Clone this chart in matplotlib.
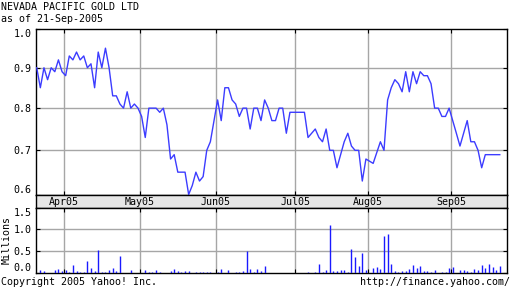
import numpy as np
import pandas as pd
import matplotlib
matplotlib.use("Agg")
import matplotlib.pyplot as plt

title = "NEVADA PACIFIC GOLD LTD"
subtitle = "as of 21-Sep-2005"
holidays = ["2005-03-25", "2005-05-30", "2005-07-04", "2005-09-05"]

# closing price, one per trading day 21-Mar-2005 .. 21-Sep-2005
prices = [
    0.90, 0.85, 0.90, 0.87, 0.90, 0.89, 0.92, 0.89, 0.88, 0.93,
    0.92, 0.94, 0.92, 0.93, 0.90, 0.91, 0.85, 0.94, 0.90, 0.95,
    0.90, 0.83, 0.83, 0.81, 0.80, 0.84, 0.80, 0.81, 0.80, 0.78,
    0.73, 0.80, 0.80, 0.80, 0.79, 0.80, 0.76, 0.68, 0.69, 0.65,
    0.65, 0.65, 0.60, 0.62, 0.65, 0.63, 0.64, 0.70, 0.72, 0.77,
    0.82, 0.77, 0.85, 0.85, 0.82, 0.81, 0.78, 0.80, 0.80, 0.75,
    0.80, 0.80, 0.77, 0.82, 0.80, 0.77, 0.77, 0.80, 0.80, 0.74,
    0.79, 0.79, 0.79, 0.79, 0.79, 0.73, 0.74, 0.75, 0.73, 0.72,
    0.75, 0.70, 0.70, 0.66, 0.69, 0.72, 0.74, 0.71, 0.70, 0.70,
    0.63, 0.68, 0.675, 0.67, 0.695, 0.72, 0.70, 0.82, 0.85, 0.87,
    0.86, 0.84, 0.89, 0.84, 0.89, 0.86, 0.89, 0.88, 0.88, 0.86,
    0.80, 0.80, 0.78, 0.78, 0.80, 0.77, 0.74, 0.71, 0.74, 0.77,
    0.72, 0.72, 0.70, 0.66, 0.69, 0.69, 0.69, 0.69, 0.69,
]

# volume in millions
volume = [
    0, 0.07, 0.045, 0, 0, 0.07, 0.09, 0.045, 0.07, 0.02,
    0.18, 0.045, 0.02, 0.02, 0.27, 0.11, 0.045, 0.52, 0.02, 0.02,
    0.07, 0.11, 0.045, 0.39, 0, 0, 0.07, 0, 0, 0,
    0.07, 0.02, 0.02, 0.07, 0.02, 0, 0, 0.045, 0.09, 0.045,
    0.02, 0.045, 0.045, 0, 0.02, 0.02, 0.02, 0.02, 0.02, 0,
    0.02, 0.09, 0, 0.07, 0, 0.02, 0.02, 0.045, 0.50, 0.09,
    0.02, 0.09, 0.045, 0.16, 0, 0, 0, 0, 0, 0,
    0, 0, 0, 0, 0, 0.02, 0, 0.02, 0.20, 0.02,
    0.07, 1.11, 0.045, 0.045, 0.07, 0.07, 0.02, 0.55, 0.36, 0.16,
    0.45, 0.07, 0, 0.11, 0.14, 0.09, 0.84, 0.89, 0.20, 0.045,
    0.02, 0.045, 0.045, 0.09, 0.18, 0.11, 0.16, 0.045, 0.045, 0.02,
    0.07, 0, 0.02, 0.02, 0.11, 0.14, 0, 0.07, 0.07, 0.045,
    0.02, 0.09, 0.07, 0.18, 0.11, 0.20, 0.14, 0.07, 0.16,
]

price_ticks = [0.6, 0.7, 0.8, 0.9, 1.0]
vol_ticks = [0.0, 0.5, 1.0, 1.5]

days = pd.bdate_range("2005-03-21", "2005-09-21", freq="C", holidays=holidays)
x = np.arange(len(days))
# month boundaries sit between the last day of one month and first of the next
mpos = [i - 0.5 for i in range(1, len(days)) if days[i].month != days[i - 1].month]
mlab = [days[i].strftime("%b%y") for i in range(1, len(days)) if days[i].month != days[i - 1].month]

plt.rcParams["font.family"] = "DejaVu Sans Mono"
plt.rcParams["font.size"] = 7.2

W, H = 512, 288
fig = plt.figure(figsize=(W / 100, H / 100), dpi=100)


def box(l, t, r, b):
    return [l / W, 1 - b / H, (r - l) / W, (b - t) / H]


grid = "#a6a6a6"
blue = "#3c3cff"
xlim = (-0.2, 130.0)

ax = fig.add_axes(box(36, 29, 507, 194.5))
ax.set_yscale("function", functions=(lambda v: np.log(v + 1.5), lambda u: np.exp(u) - 1.5))
ax.plot(x, prices, color=blue, lw=1.0, zorder=3)
ax.set_xlim(*xlim)
ax.set_ylim(0.6, 1.0)
ax.set_yticks(price_ticks)
ax.set_yticklabels([f"{v:.1f}" for v in price_ticks])
ax.yaxis.set_minor_locator(matplotlib.ticker.NullLocator())
ax.set_xticks(mpos)
ax.set_xticklabels([])
for v in price_ticks[1:-1]:
    ax.axhline(v, color=grid, lw=1.0, zorder=1)
for p in mpos:
    ax.axvline(p, color=grid, lw=1.0, zorder=1)
ax.tick_params(direction="in", length=3, width=0.8, top=True, right=True, pad=3)
lbls = ax.get_yticklabels()
lbls[0].set_verticalalignment("bottom")
lbls[-1].set_verticalalignment("top")

band = fig.add_axes(box(36, 194.5, 507, 207.5))
band.set_facecolor("#e6e6e6")
band.set_xlim(*xlim)
band.set_ylim(0, 1)
band.set_xticks([])
band.set_yticks([])
for p, s in zip(mpos, mlab):
    band.text(p, 0.45, s, ha="center", va="center")

axv = fig.add_axes(box(36, 207.5, 507, 273))
axv.vlines(x, 0, volume, color="#1a1aff", lw=1.0, zorder=3)
axv.set_xlim(*xlim)
axv.set_ylim(0, 1.5)
axv.set_yticks(vol_ticks)
axv.set_yticklabels([f"{v:.1f}" for v in vol_ticks])
axv.set_xticks(mpos)
axv.set_xticklabels([])
for v in vol_ticks[1:-1]:
    axv.axhline(v, color=grid, lw=1.0, zorder=1)
for p in mpos:
    axv.axvline(p, color=grid, lw=1.0, zorder=1)
axv.tick_params(direction="in", length=3, width=0.8, top=True, right=True, pad=3)
vl = axv.get_yticklabels()
vl[0].set_verticalalignment("bottom")
vl[-1].set_verticalalignment("top")

for a in (ax, band, axv):
    for sp in a.spines.values():
        sp.set_linewidth(1.0)
        sp.set_color("black")

fig.text(1 / W, 1 - 7 / H, title, ha="left", va="center")
fig.text(1 / W, 1 - 19 / H, subtitle, ha="left", va="center")
fig.text(7 / W, 1 - 240 / H, "Millions", rotation=90, ha="center", va="center")
fig.text(1 / W, 1 - 282 / H, "Copyright 2005 Yahoo! Inc.", ha="left", va="center")
fig.text(510 / W, 1 - 282 / H, "http://finance.yahoo.com/", ha="right", va="center")

fig.savefig("out.png", dpi=100, facecolor="white")
